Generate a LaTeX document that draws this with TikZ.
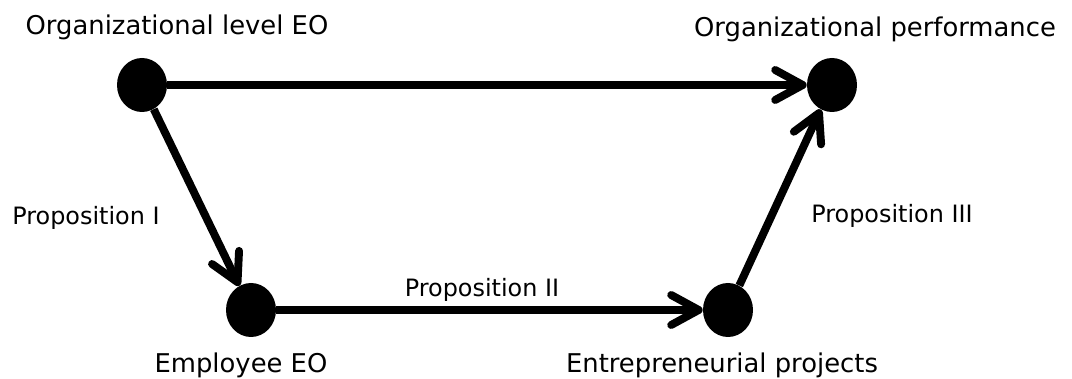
\documentclass[tikz,border=0pt]{standalone}
\usepackage{fontspec}
\setmainfont{DejaVu Sans}
\usetikzlibrary{arrows.meta, shapes.geometric}

\tikzset{
    dot/.style={ellipse, fill=black, inner sep=0pt, minimum width=1cm, minimum height=1.08cm},
    link/.style={line width=4.5pt, -{Straight Barb[round, length=0.55cm, width=0.6cm]}},
    lab/.style={anchor=base, font=\fontsize{14.7pt}{17pt}\selectfont},
    prop/.style={anchor=base, font=\fontsize{13.6pt}{16pt}\selectfont}
}

\begin{document}
\begin{tikzpicture}
            \useasboundingbox (0, 0) rectangle (21.44, 7.56);

            \node[dot] (orgEO) at (2.84, 5.86) {};
            \node[dot] (perf) at (16.64, 5.86) {};
            \node[dot] (empEO) at (5.02, 1.36) {};
            \node[dot] (proj) at (14.56, 1.36) {};

            \node[lab] (orgEOlab) at (3.54, 6.86) {Organizational level EO};
            \node[lab] (perflab) at (17.5, 6.82) {Organizational performance};
            \node[lab] (empEOlab) at (4.82, 0.12) {Employee EO};
            \node[lab] (projlab) at (14.44, 0.12) {Entrepreneurial projects};

            \draw[link] (orgEO) -- (perf);
            \draw[link] (orgEO) -- (empEO);
            \draw[link] (empEO) -- (proj);
            \draw[link] (proj) -- (perf);

            \node[prop] (propI) at (1.72, 3.06) {Proposition I};
            \node[prop] (propII) at (9.64, 1.62) {Proposition II};
            \node[prop] (propIII) at (17.84, 3.10) {Proposition III};
        \end{tikzpicture}
\end{document}
